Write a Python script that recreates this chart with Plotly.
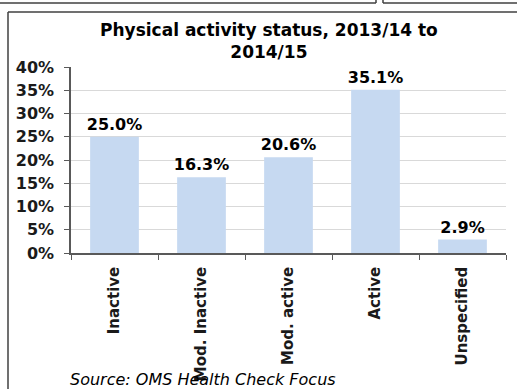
import plotly.graph_objects as go

categories = ["Inactive", "Mod. Inactive", "Mod. active", "Active", "Unspecified"]
values = [0.250, 0.163, 0.206, 0.351, 0.029]
labels = ["25.0%", "16.3%", "20.6%", "35.1%", "2.9%"]
title_text = "Physical activity status, 2013/14 to<br>2014/15"
source_text = "Source: OMS Health Check Focus"

W, H = 517, 389
ML, MR, MT, MB = 71, 11, 67, 136
PW, PH = W - ML - MR, H - MT - MB


def px(x):
    return (x - ML) / PW


def py(y):
    return (H - MB - y) / PH


FONT = "DejaVu Sans"
bar_color = "#c6d9f1"
axis_color = "#595959"

fig = go.Figure(
    go.Bar(
        x=categories,
        y=values,
        text=labels,
        textposition="outside",
        constraintext="none",
        cliponaxis=False,
        textfont=dict(family=FONT, size=16, color="#000000", weight="bold"),
        marker=dict(color=bar_color, line=dict(width=0)),
        width=0.56,
    )
)

shape_line = dict(color="#404040", width=1.5)
shapes = [
    # outer frame (left and top)
    dict(type="line", xref="paper", yref="paper", x0=px(8), x1=px(520), y0=py(12), y1=py(12), line=shape_line),
    dict(type="line", xref="paper", yref="paper", x0=px(8), x1=px(8), y0=py(12), y1=py(392), line=shape_line),
    # top strip boxes
    dict(type="line", xref="paper", yref="paper", x0=px(-2), x1=px(376), y0=py(3), y1=py(3), line=shape_line),
    dict(type="line", xref="paper", yref="paper", x0=px(376), x1=px(376), y0=py(-2), y1=py(3), line=shape_line),
    dict(type="line", xref="paper", yref="paper", x0=px(383), x1=px(383), y0=py(-2), y1=py(3), line=shape_line),
    dict(type="line", xref="paper", yref="paper", x0=px(383), x1=px(520), y0=py(3), y1=py(3), line=shape_line),
]

annotations = [
    dict(text="<b>" + title_text.replace("<br>", "</b><br><b>") + "</b>", xref="paper", yref="paper",
         x=px(269), y=py(41.5), xanchor="center", yanchor="middle", showarrow=False,
         font=dict(family=FONT, size=17, color="#000000")),
    dict(text="<i>" + source_text + "</i>", xref="paper", yref="paper",
         x=px(68), y=py(380), xanchor="left", yanchor="middle", showarrow=False,
         font=dict(family=FONT, size=16, color="#000000")),
]

fig.update_layout(
    width=W,
    height=H,
    margin=dict(l=ML, r=MR, t=MT, b=MB, pad=0),
    paper_bgcolor="white",
    plot_bgcolor="white",
    showlegend=False,
    shapes=shapes,
    annotations=annotations,
    bargap=0.44,
)

fig.update_yaxes(
    range=[0, 0.40],
    dtick=0.05,
    tickformat=".0%",
    showgrid=True,
    gridcolor="#d9d9d9",
    gridwidth=1,
    showline=True,
    linecolor=axis_color,
    linewidth=1.5,
    ticks="outside",
    ticklen=5,
    tickcolor=axis_color,
    zeroline=False,
    automargin=False,
    ticklabelstandoff=7,
    tickfont=dict(family=FONT, size=16, color="#1a1a1a", weight="bold"),
)
fig.update_xaxes(
    tickangle=-90,
    showline=True,
    linecolor=axis_color,
    linewidth=1.5,
    ticks="outside",
    tickson="boundaries",
    ticklen=5,
    tickcolor=axis_color,
    ticklabelstandoff=6,
    automargin=False,
    tickfont=dict(family=FONT, size=15, color="#1a1a1a", weight="bold"),
)

fig.write_html(
    "out.html",
    config={"displayModeBar": False},
    post_script="document.body.style.margin='0';document.body.style.overflow='hidden';",
)
